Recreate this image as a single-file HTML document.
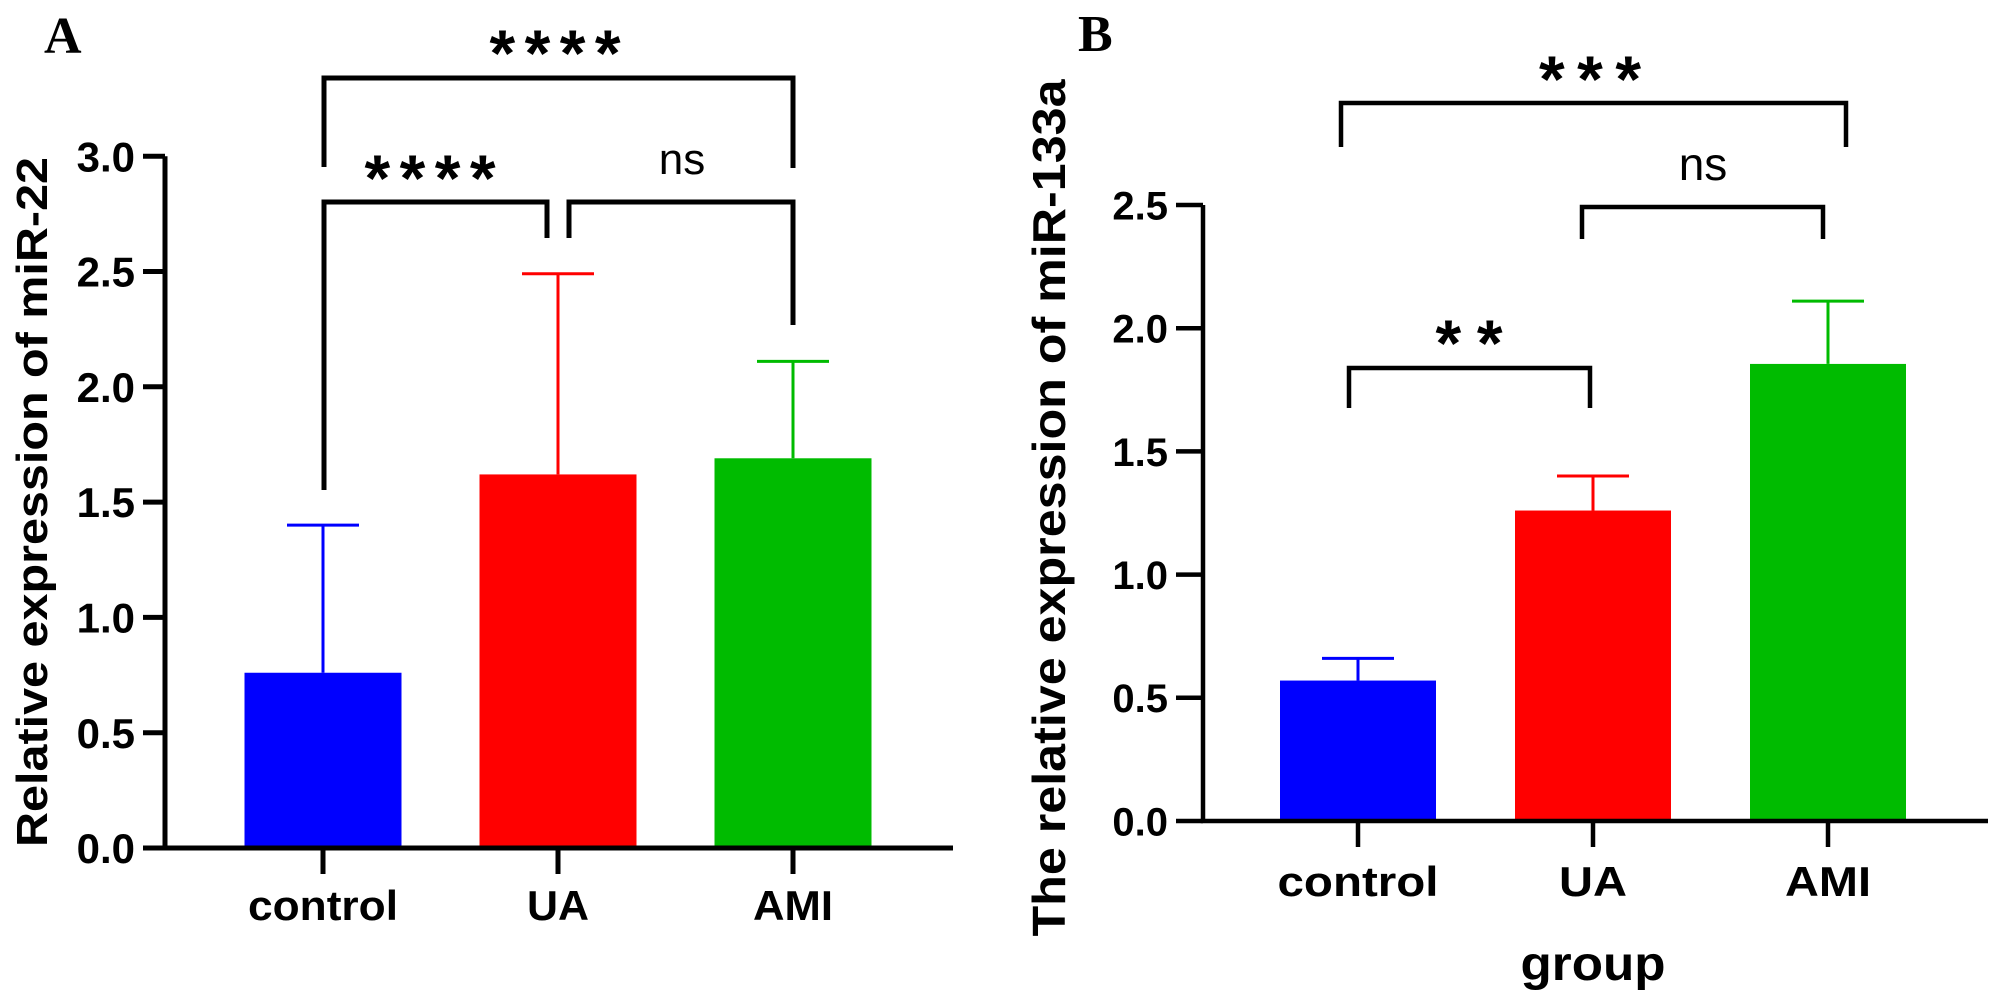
<!DOCTYPE html>
<html><head><meta charset="utf-8"><style>
html,body{margin:0;padding:0;background:#fff;}
svg{display:block;}
text{font-family:"Liberation Sans",Arial,sans-serif;}
</style></head><body>
<svg id="fig" width="2000" height="1003" viewBox="0 0 2000 1003"></svg>
<script>
const categories = ["control","UA","AMI"];
const colors = ["#0000ff","#ff0000","#00bb00"];
const valuesA = [0.76, 1.62, 1.69];
const errA = [1.40, 2.49, 2.11];
const valuesB = [0.57, 1.26, 1.855];
const errB = [0.66, 1.40, 2.11];
const ticksA = [0,0.5,1.0,1.5,2.0,2.5,3.0];
const ticksB = [0,0.5,1.0,1.5,2.0,2.5];

const NS="http://www.w3.org/2000/svg";
const svg=document.getElementById('fig');
function el(tag,attrs,parent){const e=document.createElementNS(NS,tag);for(const k in attrs)e.setAttribute(k,attrs[k]);(parent||svg).appendChild(e);return e;}

function panel(cfg){
  const g=el('g',{});
  
  
  const y=v=>cfg.y0-v*cfg.unit;
  const x=i=>cfg.x0+i*cfg.step;
  cfg.values.forEach((v,i)=>{
    const b=el('rect',{x:x(i)-cfg.bw/2,y:y(v),width:cfg.bw,height:y(0)-y(v),fill:colors[i]},g);
    
    
    const e=el('path',{d:`M${x(i)},${y(v)}V${y(cfg.err[i])}M${x(i)-cfg.capw},${y(cfg.err[i])}H${x(i)+cfg.capw}`,stroke:colors[i],'stroke-width':3,fill:'none'},g);
    
    
  });
  const ya=el('path',{d:`M${cfg.ax},${y(cfg.ticks[cfg.ticks.length-1])}V${y(0)+2}`,stroke:'#000','stroke-width':cfg.lw,fill:'none'},g);
  
  
  cfg.ticks.forEach(t=>{
    el('path',{d:`M${cfg.ax-cfg.tl},${y(t)}H${cfg.ax}`,stroke:'#000','stroke-width':cfg.lw},g);
    const tx=el('text',{x:cfg.ax-cfg.tl-8,y:y(t)+cfg.tfs*0.36,'text-anchor':'end','font-size':cfg.tfs,'font-weight':'bold'},g);
    tx.textContent=t.toFixed(1);
    
    
  });
  const xa=el('path',{d:`M${cfg.ax-cfg.lw/2},${y(0)}H${cfg.xend}`,stroke:'#000','stroke-width':cfg.lw,fill:'none'},g);
  
  
  categories.forEach((c,i)=>{
    el('path',{d:`M${x(i)},${y(0)}V${y(0)+cfg.xtl}`,stroke:'#000','stroke-width':cfg.lw},g);
    const tx=el('text',{x:x(i),y:cfg.catY,'text-anchor':'middle','font-size':cfg.cfs,'font-weight':'bold',textLength:cfg.catW[i],lengthAdjust:'spacingAndGlyphs'},g);
    tx.textContent=c;
    
    
  });
  const yt=el('text',{x:0,y:0,'font-size':cfg.yfs,'font-weight':'bold','text-anchor':'middle',transform:`translate(${cfg.ytx},${cfg.ytc}) rotate(-90)`,textLength:cfg.ytlen,lengthAdjust:'spacingAndGlyphs'},g);
  yt.textContent=cfg.ytitle;
  
  
  cfg.brackets.forEach(b=>{
    const p=el('path',{d:`M${b[0]},${b[3]}V${b[2]}H${b[1]}V${b[4]}`,stroke:'#000','stroke-width':cfg.lw,fill:'none'},g);
    
    
    const isNs=b[7]==='ns';
    const attrs={x:b[5],y:b[6],'text-anchor':'middle','font-size':b[8],'font-weight':isNs?'normal':'bold'};
    if(!isNs){attrs.textLength=b[9];attrs.lengthAdjust='spacing';}
    const t=el('text',attrs,g);
    t.textContent=b[7];
    
    
  });
  const L=el('text',{x:cfg.lx,y:cfg.ly,'font-size':52,'font-weight':'bold',style:'font-family:"Liberation Serif",serif'},g);
  L.textContent=cfg.letter;
  
  
}

panel({name:'panel-a',values:valuesA,err:errA,ticks:ticksA,y0:848,unit:230.6,x0:323,step:235,bw:157,capw:36,ax:165,tl:22,lw:5,tfs:42,xend:953,xtl:26,catY:920,cfs:42,catW:[150,62,80],
  ytitle:'Relative expression of miR-22',yfs:44,ytx:47,ytc:502,ytlen:690,
  brackets:[[324,793,78,167,168,555,76,'****',66,131],[324,547,202,490,238,430,201,'****',66,131],[569,793,202,238,325,682,174,'ns',44]],
  letter:'A',lx:44,ly:53});
panel({name:'panel-b',values:valuesB,err:errB,ticks:ticksB,y0:821,unit:246.4,x0:1358,step:235,bw:156,capw:36,ax:1203,tl:27,lw:4.5,tfs:40,xend:1988,xtl:26,catY:896,cfs:42,catW:[161,68,86],
  ytitle:'The relative expression of miR-133a',yfs:46,ytx:1065,ytc:508,ytlen:857,
  brackets:[[1341,1846,103,147,147,1590,102,'***',66,102],[1349,1590,368,408,408,1469,366,'**',66,67],[1582,1823,207,239,239,1703,180,'ns',46]],
  letter:'B',lx:1078,ly:51});
const gt=el('text',{x:1593,y:980,'text-anchor':'middle','font-size':48,'font-weight':'bold',textLength:145,lengthAdjust:'spacingAndGlyphs'});
gt.textContent='group';


</script>
</body></html>
